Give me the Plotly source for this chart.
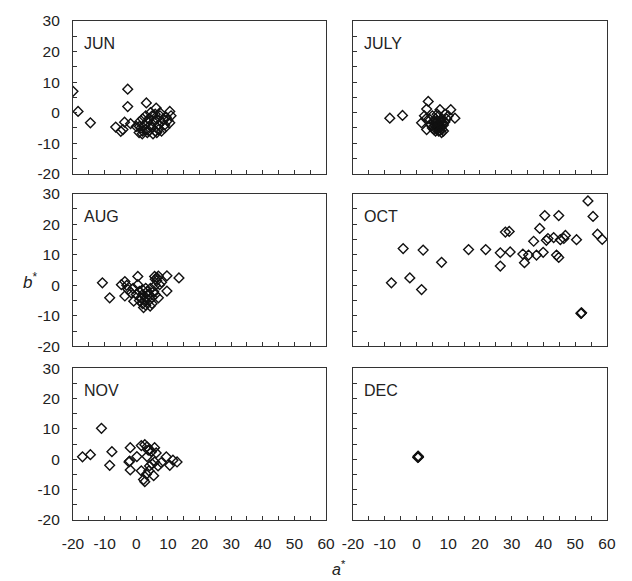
import plotly.graph_objects as go

# ---------------- data ----------------
months = ["JUN", "JULY", "AUG", "OCT", "NOV", "DEC"]

jun_a = [-20, -18.4, -14.5, -6.5, -4.9, -4.2, -2.7, -2.7, -3.7, -1.8, 3.2, 6.3, 10.6, 10.6, 0.9, 1.9, 5.3,
         0, 1, 1.5, 2, 2.5, 3, 3, 3.5, 4, 4, 4.5, 5, 5, 5.5, 6, 6, 6.5, 7, 7, 7.5, 8, 8, 8.5, 9, 9.5, 10,
         11, 2, 6.5, 3.5, 9, 4.5, 7.5, 1]
jun_b = [7, 0.4, -3.3, -4.7, -6.1, -5.5, 7.7, 2.0, -3.1, -3.6, 3.2, 1.5, 0.4, -3.3, -6.5, -6.9, -6.9,
         -4.5, -3, -5, -2, -4, -5.5, -1, -3, -6, -2, -4, -1, -5, -3, -6, -0.5, -2, -4, -5.5, -1, -3, -6, -2,
         -4, -1.5, -2.5, -1, -6, -6.5, -6.5, -5, 0, 0, -4.5]

july_a = [-8.4, -4.4, 3.7, 3.2, 7.4, 10.8, 12.1, 1.6, 3.2, 7.9,
          4, 4.5, 5, 5, 5.5, 6, 6, 6.5, 7, 7, 7.5, 8, 8, 8.5, 9, 9, 9.5, 10, 6, 7, 5.5, 8.5, 6.5, 3, 2.5,
          6.2, 6.8, 7.2, 7.8, 5.8, 6.4, 7.4, 8.2, 6.6, 7.6]
july_b = [-1.8, -0.9, 3.7, 1.2, 1.0, 1.0, -1.8, -3.3, -5.5, -6.5,
          -2, -4, -1, -5, -3, -6, -2, -4, -5, -1, -3, -5.5, -2, -4, -0.5, -3, -2, -1, -3.5, -6, -5.5, -6,
          -0.5, -2, -1,
          -4.5, -5.2, -3.8, -4.6, -4.2, -5.6, -5.8, -3.2, -2.8, -2.4]

aug_a = [-10.7, -8.4, -4.7, -3.6, -3.6, -2.6, -1.6, 0.5, 0.5, -0.8, 2.3, 4.4, 5.8, 6.6, 7.4, 9.7, 9.7, 7.0, 13.5,
         0, 1, 1, 1.5, 2, 2, 2.5, 3, 3, 3.5, 4, 4, 4.5, 5, 5, 5.5, 6, 6, 6.5, 7, 8, 6, 3, 2, -1, -3]
aug_b = [0.8, -4.1, 0.2, 1.2, -3.5, -1.4, -2.5, 2.9, 0.2, -5.2, -7.3, -6.8, 2.9, 2.4, 0.2, 3.1, -1.9, -4.1, 2.4,
         -3, -5, -2, -4, -6, -3, -5, -4, -6.5, -2, -5, -3, -1, -4, -6, -2, -3, 0, 1.5, 3, 1, 2, -1, -1.5, -1, 0]

oct_a = [-7.9, -4.2, -2.1, 1.6, 2.1, 7.9, 16.4, 21.8, 26.4, 26.4, 29.5, 28.0, 29.2, 33.5, 34.0, 35.3, 36.9,
         37.8, 38.8, 39.9, 40.4, 40.9, 41.4, 43.2, 44.1, 44.8, 44.8, 45.3, 46.4, 46.9, 50.4, 51.9, 52.0, 51.8,
         54.0, 55.6, 57.0, 58.5]
oct_b = [0.8, 12.0, 2.4, -1.4, 11.5, 7.5, 11.7, 11.7, 10.6, 6.3, 10.9, 17.4, 17.6, 10.2, 7.4, 9.9, 14.4,
         9.9, 18.6, 10.8, 22.8, 14.7, 15.3, 15.6, 9.9, 22.8, 9.1, 14.9, 15.3, 16.3, 14.9, -9.1, -9.0, -9.2,
         27.6, 22.5, 16.7, 15.0]

nov_a = [-17.0, -14.5, -11.0, -7.7, -8.4, -1.9, -2.1, -2.3, -1.9, 0.2, 1.6, 2.7, 3.4, 4.2, 5.8, 6.3, 1.6, 2.3,
         2.7, 3.2, 4.0, 4.2, 5.5, 5.8, 6.9, 7.9, 9.5, 10.6, 11.6, 12.9, 3.4, 5.0, 3.8, 4.8]
nov_b = [0.8, 1.5, 10.2, 2.5, -2.0, 3.8, -0.6, -0.9, -3.5, 0.9, 4.5, 4.8, 4.1, 3.2, 3.8, 2.1, -3.8, -6.7,
         -7.4, -4.9, -3.8, -2.2, -5.4, -0.9, -2.2, -1.1, 0.8, -2.0, -0.3, -0.9, 0.9, -1.5, 3.0, 2.5]

dec_a = [0.4, 0.6, 0.5, 0.6]
dec_b = [0.6, 0.9, 1.0, 0.7]

x_ticks = [-20, -10, 0, 10, 20, 30, 40, 50, 60]
y_ticks = [-20, -10, 0, 10, 20, 30]

series = [(jun_a, jun_b), (july_a, july_b), (aug_a, aug_b), (oct_a, oct_b), (nov_a, nov_b), (dec_a, dec_b)]

# ---------------- layout geometry ----------------
col_dom = [[0.0, 0.4738], [0.5243, 1.0]]
row_dom = [[0.6937, 1.0], [0.3478, 0.6542], [0.0, 0.3043]]

FONT = "Liberation Sans, Arial, sans-serif"
fig = go.Figure()

layout = dict(
    width=632, height=581,
    margin=dict(l=73, r=25, t=14, b=61),
    paper_bgcolor="white", plot_bgcolor="white",
    showlegend=False,
    font=dict(family=FONT, size=15, color="#222"),
)

annotations = []
for i, (name, (xa, yb)) in enumerate(zip(months, series)):
    r, c = divmod(i, 2)
    n = i + 1
    sfx = "" if n == 1 else str(n)
    fig.add_trace(go.Scatter(
        x=xa, y=yb, mode="markers",
        marker=dict(symbol="diamond-open", size=7.5, color="#111", line=dict(width=1.4, color="#111")),
        xaxis="x" + sfx, yaxis="y" + sfx, hoverinfo="skip"))
    common = dict(
        showline=True, linecolor="#333", linewidth=1.2, mirror=True,
        showgrid=False, zeroline=False,
        ticks="inside", ticklen=4, tickcolor="#333", tickwidth=1,
        minor=dict(ticks="inside", ticklen=4, dtick=5, tickcolor="#333", tickwidth=1),
        ticklabelstandoff=9,
        tickfont=dict(family=FONT, size=15.5, color="#222"),
    )
    layout["xaxis" + sfx] = dict(
        common, domain=col_dom[c], range=[-20, 60], tickvals=x_ticks, ticktext=[str(v) for v in x_ticks],
        anchor="y" + sfx, showticklabels=(r == 2))
    layout["yaxis" + sfx] = dict(
        common, domain=row_dom[r], range=[-20, 30], tickvals=y_ticks, ticktext=[str(v) for v in y_ticks],
        anchor="x" + sfx, showticklabels=(c == 0))
    annotations.append(dict(
        text=name, xref="x" + sfx + " domain", yref="y" + sfx + " domain",
        x=0.034, y=0.852, xanchor="left", yanchor="middle", showarrow=False,
        font=dict(family=FONT, size=16, color="#222")))

annotations.append(dict(text="<i>b</i><sup>*</sup>", xref="paper", yref="paper",
                        x=-0.08, y=(520 - 278) / 506, xanchor="center", yanchor="middle",
                        showarrow=False, font=dict(family=FONT, size=17, color="#222")))
annotations.append(dict(text="<i>a</i><sup>*</sup>", xref="paper", yref="paper",
                        x=(339 - 73) / 534, y=-(569 - 520) / 506, xanchor="center", yanchor="middle",
                        showarrow=False, font=dict(family=FONT, size=16, color="#222")))
layout["annotations"] = annotations

fig.update_layout(**layout)
fig.write_html("out.html")
